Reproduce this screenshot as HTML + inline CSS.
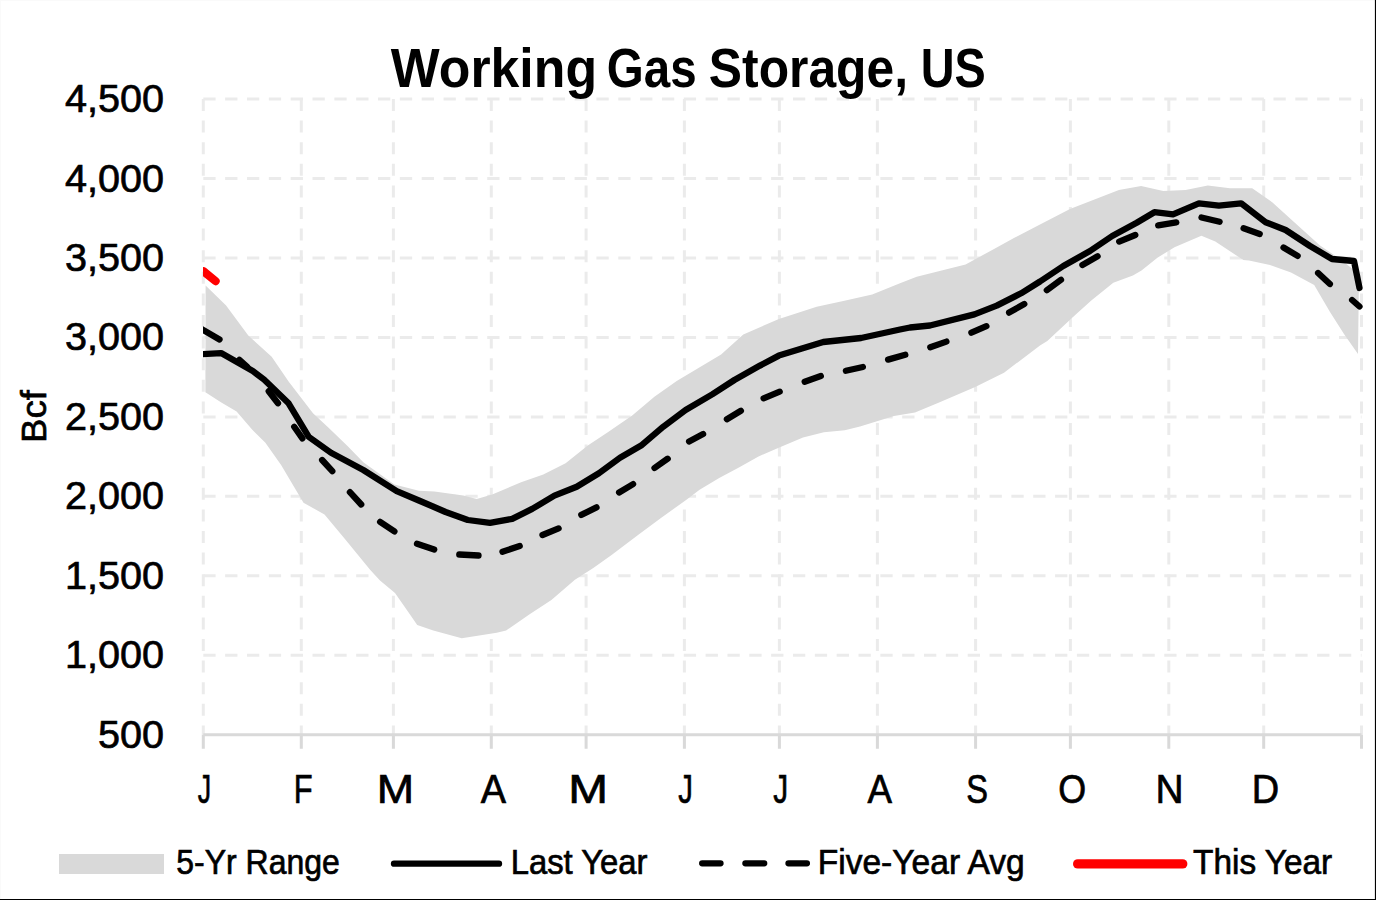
<!DOCTYPE html>
<html><head><meta charset="utf-8"><style>
html,body{margin:0;padding:0;background:#fff;}
svg{display:block;}
text{font-family:"Liberation Sans",sans-serif;fill:#000;}
.rg text,.bcf{stroke:#000;stroke-width:0.7px;}
</style></head><body>
<svg width="1376" height="900" viewBox="0 0 1376 900">
<defs><clipPath id="pc"><rect x="203" y="60" width="1163" height="700"/></clipPath></defs>
<rect x="0" y="0" width="1376" height="900" fill="#fff"/>
<path d="M203.3,99.0H1361.5M203.3,178.5H1361.5M203.3,257.9H1361.5M203.3,337.4H1361.5M203.3,416.9H1361.5M203.3,496.3H1361.5M203.3,575.8H1361.5M203.3,655.2H1361.5" stroke="#ebebeb" stroke-width="3" stroke-dasharray="12.3 9.54" fill="none"/>
<path d="M203.3,99V734.7M301.3,99V734.7M393.4,99V734.7M491.3,99V734.7M586.1,99V734.7M684.4,99V734.7M779.4,99V734.7M877.4,99V734.7M975.6,99V734.7M1070.4,99V734.7M1168.8,99V734.7M1263.7,99V734.7M1361.5,99V734.7" stroke="#ebebeb" stroke-width="3" stroke-dasharray="12 9.6" fill="none"/>
<polygon points="205.6,285.6 226.1,305.6 248.3,335.6 271.7,356.7 288.6,381.5 313.0,413.3 328.3,427.5 347.5,446.0 363.3,462.2 394.4,484.4 418.9,490.7 434.4,491.6 463.3,495.6 476.7,498.9 492.2,494.4 521.1,482.2 543.3,474.4 565.6,463.3 587.8,445.6 607.8,432.2 632.2,415.6 654.4,396.7 676.7,381.1 698.9,367.8 721.1,354.4 743.3,334.4 778.9,318.9 816.7,306.7 843.3,301.1 872.2,294.4 900.0,283.3 916.7,276.7 965.6,264.4 992.2,250.0 1014.4,237.8 1040.0,224.4 1070.0,208.9 1118.9,190.0 1141.1,186.0 1163.3,191.1 1185.6,190.0 1207.8,185.6 1230.0,188.2 1252.2,188.2 1272.2,202.2 1294.0,222.0 1320.0,245.6 1340.0,259.0 1359.0,274.0 1358.0,354.0 1344.0,334.0 1330.0,312.0 1314.2,284.9 1291.0,272.4 1270.0,265.0 1249.0,260.5 1243.3,260.0 1215.3,241.6 1201.4,235.8 1174.5,247.3 1157.4,257.7 1141.5,270.6 1132.9,275.5 1113.3,282.8 1091.3,300.5 1073.0,317.0 1047.3,340.9 1040.0,345.5 1004.0,372.7 975.2,387.1 938.5,402.8 915.0,412.6 894.0,415.9 877.0,421.2 860.0,426.4 844.8,430.3 823.9,432.2 803.0,437.5 778.1,447.9 758.5,456.4 738.9,467.6 719.2,478.0 699.6,489.8 686.1,500.0 661.3,517.7 637.7,535.3 611.6,554.9 593.3,568.0 574.9,579.8 551.4,600.0 530.0,613.9 506.1,630.6 496.7,632.8 461.7,638.3 433.3,630.6 417.2,625.0 410.0,614.4 395.0,593.1 380.0,580.6 370.3,570.0 344.1,538.0 324.5,514.5 303.5,502.7 281.1,465.0 265.4,442.8 252.3,429.7 236.6,411.4 220.9,402.2 205.4,392.3" fill="#d9d9d9"/>
<path d="M203.3,734.7H1361.5M203.3,734.7V748.7M301.3,734.7V748.7M393.4,734.7V748.7M491.3,734.7V748.7M586.1,734.7V748.7M684.4,734.7V748.7M779.4,734.7V748.7M877.4,734.7V748.7M975.6,734.7V748.7M1070.4,734.7V748.7M1168.8,734.7V748.7M1263.7,734.7V748.7M1361.5,734.7V748.7" stroke="#d9d9d9" stroke-width="3" fill="none"/>
<g clip-path="url(#pc)" fill="none" stroke-linecap="round" stroke-linejoin="round">
<path d="M196.0,325.7L219.5,339.5M239.4,359.9L247.2,366.8M268.7,391.2L278.0,403.2M294.2,426.8L302.4,438.4M322.1,460.0L332.3,471.1M349.9,492.2L361.2,504.5M380.1,521.9L394.4,531.4M417.0,543.8L434.2,549.5M459.3,554.5L478.5,555.5M502.5,551.7L519.7,546.1M542.5,535.0L558.6,528.4M581.3,514.9L596.5,507.4M619.1,492.5L633.1,484.1M654.5,468.0L667.7,458.7M689.1,441.5L703.1,434.0M726.9,419.2L740.9,410.8M763.6,398.3L779.7,391.7M804.7,381.7L820.8,376.1M845.9,370.8L862.9,367.0M888.1,359.6L905.3,354.8M930.3,347.3L946.4,341.6M971.4,332.7L986.4,326.2M1009.1,312.6L1024.3,304.0M1046.8,290.2L1061.0,279.8M1082.4,264.9L1097.6,256.3M1119.2,241.6L1135.3,235.0M1158.2,225.4L1176.3,222.4M1201.5,217.5L1219.6,221.8M1243.6,228.3L1259.7,233.9M1283.5,247.5L1297.6,255.9M1318.1,273.0L1329.9,284.0M1352.1,300.0L1359.5,306.5" stroke="#000" stroke-width="6.3"/>
<polyline points="196.0,354.5 221.1,353.1 252.8,371.1 264.0,379.5 288.6,403.3 308.6,436.7 331.0,452.7 363.3,470.0 396.7,491.1 418.9,500.5 445.6,512.0 467.8,520.0 490.0,522.9 512.2,518.9 532.2,508.9 554.4,495.6 576.7,486.7 598.9,473.3 620.0,457.8 641.1,445.6 663.3,426.7 685.6,410.0 712.2,394.4 734.4,380.0 760.0,365.6 778.9,355.6 823.3,342.0 861.1,338.0 900.0,329.5 910.0,327.5 930.0,325.5 974.4,314.4 996.7,305.6 1021.1,293.3 1040.0,281.5 1063.3,266.0 1090.0,251.0 1112.2,236.0 1136.7,222.8 1154.4,212.2 1173.0,214.4 1198.9,203.3 1218.9,205.6 1241.1,203.3 1265.6,222.2 1285.6,230.0 1310.0,246.0 1332.0,259.0 1354.0,261.0 1359.5,288.0" stroke="#000" stroke-width="6.3"/>
<path d="M203.5,271.3L215.6,281.1" stroke="#f00" stroke-width="8.2"/>
</g>
<g font-weight="bold"><text transform="translate(390.85,86.5) scale(0.9382,1)" font-size="55.2">Working</text><text transform="translate(606.85,86.5) scale(0.8617,1)" font-size="55.2">Gas</text><text transform="translate(708.86,86.5) scale(0.9019,1)" font-size="55.2">Storage,</text><text transform="translate(920.69,86.5) scale(0.8482,1)" font-size="55.2">US</text></g>
<g class="rg" font-size="39.6"><text x="164" y="112.0" text-anchor="end">4,500</text><text x="164" y="191.5" text-anchor="end">4,000</text><text x="164" y="270.9" text-anchor="end">3,500</text><text x="164" y="350.4" text-anchor="end">3,000</text><text x="164" y="429.9" text-anchor="end">2,500</text><text x="164" y="509.3" text-anchor="end">2,000</text><text x="164" y="588.8" text-anchor="end">1,500</text><text x="164" y="668.2" text-anchor="end">1,000</text><text x="164" y="747.7" text-anchor="end">500</text></g>
<g class="rg" font-size="40.5"><text transform="translate(204.34,803.0) scale(0.662,1)" text-anchor="middle">J</text><text transform="translate(303.17,803.0) scale(0.762,1)" text-anchor="middle">F</text><text transform="translate(395.39,803.0) scale(1.107,1)" text-anchor="middle">M</text><text transform="translate(493.31,803.0) scale(0.936,1)" text-anchor="middle">A</text><text transform="translate(588.03,803.0) scale(1.179,1)" text-anchor="middle">M</text><text transform="translate(685.45,803.0) scale(0.723,1)" text-anchor="middle">J</text><text transform="translate(780.66,803.0) scale(0.736,1)" text-anchor="middle">J</text><text transform="translate(879.80,803.0) scale(0.908,1)" text-anchor="middle">A</text><text transform="translate(977.08,803.0) scale(0.806,1)" text-anchor="middle">S</text><text transform="translate(1072.11,803.0) scale(0.886,1)" text-anchor="middle">O</text><text transform="translate(1169.51,803.0) scale(0.961,1)" text-anchor="middle">N</text><text transform="translate(1265.51,803.0) scale(0.937,1)" text-anchor="middle">D</text></g>
<text class="bcf" transform="translate(45.6,442.9) rotate(-90) scale(1.042,1)" font-size="35.1">Bcf</text>
<rect x="59" y="854" width="105" height="20" fill="#d9d9d9"/>
<g fill="none" stroke-linecap="round">
<path d="M394,863.7H499" stroke="#000" stroke-width="6.3"/>
<path d="M702.2,863.3H720.5M745.4,863.3H764.2M788.5,863.3H806.9" stroke="#000" stroke-width="6.3"/>
<path d="M1077.7,863.9H1182.7" stroke="#f00" stroke-width="9.4"/>
</g>
<g class="rg"><text transform="translate(176.27,873.8) scale(0.9036,1)" font-size="35.4">5-Yr Range</text><text transform="translate(510.66,873.8) scale(0.9277,1)" font-size="35.4">Last Year</text><text transform="translate(817.70,873.8) scale(0.9482,1)" font-size="35.4">Five-Year Avg</text><text transform="translate(1193.02,873.8) scale(0.9432,1)" font-size="35.4">This Year</text></g>
<path d="M0.5,0V900M0,0.5H1376" stroke="#fafafa" stroke-width="1" fill="none"/>
<path d="M1375.5,0V900M0,899.5H1376" stroke="#000" stroke-width="1.2" fill="none"/>
</svg>
</body></html>
